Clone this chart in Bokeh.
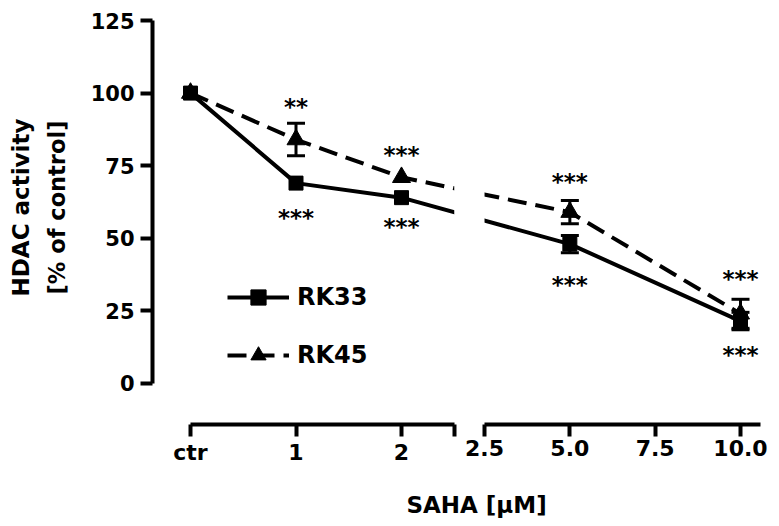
import math
from bokeh.plotting import figure
from bokeh.models import (ColumnDataSource, LinearAxis, FixedTicker, CustomJSTickFormatter,
                          Range1d, Whisker, TeeHead, BoxAnnotation, Label, Legend, LegendItem)
from bokeh.core.properties import value
from bokeh.embed import file_html
from bokeh.resources import INLINE

# ---------------- data ----------------
conc = [0, 1, 2, 5, 10]            # 0 = ctr
rk33 = [100, 69, 64, 48, 21.5]
rk33_err = [0, 1, 1.5, 3, 3]
rk45 = [100, 84, 71, 59, 24]
rk45_err = [0, 5.6, 1, 4, 5]

sig_x = [1, 2, 1, 2, 5, 5, 10, 10]
sig_y = [95.7, 79.2, 57.5, 54.4, 69.9, 34.4, 36.5, 10.3]
sig_txt = ["**", "***", "***", "***", "***", "***", "***", "***"]

y_ticks = [0, 25, 50, 75, 100, 125]
left_ticks = [0, 1, 2]
right_ticks = [2.5, 5.0, 7.5, 10.0]

# ---------------- broken x axis geometry ----------------
BREAK = 2.5      # left segment ends here
GAP = 0.287      # display gap between segments
RS = 0.3235      # display units per data unit on right segment
RIGHT_END = 10.6

def disp_left(x):
    return x

def disp_right(x):
    return BREAK + GAP + (x - BREAK) * RS

def to_disp(x):
    return disp_left(x) if x <= BREAK else disp_right(x)

# whole canvas is the frame; axes sit at fixed positions inside it
X0, X1 = -1.801, 5.545
Y0, Y1 = -47.87, 131.89
Y_AXIS_AT = -0.360
X_AXIS_AT = -14.12
FONT = "DejaVu Sans"
INK = "black"

p = figure(width=775, height=522, x_range=Range1d(X0, X1), y_range=Range1d(Y0, Y1),
           output_backend="svg", toolbar_location=None, x_axis_location=None,
           min_border_left=0, min_border_right=0, min_border_top=0, min_border_bottom=0)
p.outline_line_color = None
p.grid.visible = False
p.background_fill_color = "white"

# y axis
ya = p.yaxis[0]
ya.fixed_location = Y_AXIS_AT
ya.bounds = (0, 125)
ya.ticker = FixedTicker(ticks=y_ticks)
ya.axis_line_width = 4
ya.axis_line_color = INK
ya.major_tick_line_width = 4
ya.major_tick_line_color = INK
ya.major_tick_out = 12
ya.major_tick_in = 0
ya.minor_tick_line_color = None
ya.major_label_text_font = FONT
ya.major_label_text_font_style = "bold"
ya.major_label_text_font_size = "21px"
ya.major_label_text_color = INK
ya.major_label_standoff = 6

def style_x(ax):
    ax.axis_line_width = 4
    ax.axis_line_color = INK
    ax.major_tick_line_width = 4
    ax.major_tick_line_color = INK
    ax.major_tick_out = 12
    ax.major_tick_in = 0
    ax.minor_tick_line_color = None
    ax.major_label_text_font = FONT
    ax.major_label_text_font_style = "bold"
    ax.major_label_text_font_size = "22px"
    ax.major_label_text_color = INK
    ax.major_label_standoff = 4

ax_left = LinearAxis(
    ticker=FixedTicker(ticks=[disp_left(t) for t in left_ticks] + [BREAK]),
    formatter=CustomJSTickFormatter(args=dict(b=BREAK),
        code="if (tick == 0) { return 'ctr'; } if (tick >= b - 1e-6) { return ''; } return tick.toFixed(0);"),
    bounds=(disp_left(0), BREAK), fixed_location=X_AXIS_AT)
style_x(ax_left)
ax_right = LinearAxis(
    ticker=FixedTicker(ticks=[disp_right(t) for t in right_ticks]),
    formatter=CustomJSTickFormatter(args=dict(b=BREAK, g=GAP, rs=RS),
        code="return ((tick - b - g) / rs + b).toFixed(1);"),
    bounds=(disp_right(BREAK), disp_right(RIGHT_END)), fixed_location=X_AXIS_AT)
style_x(ax_right)
p.add_layout(ax_left, "below")
p.add_layout(ax_right, "below")

# ---------------- series ----------------
xd = [to_disp(c) for c in conc]
src33 = ColumnDataSource(dict(x=xd, y=rk33))
src45 = ColumnDataSource(dict(x=xd, y=rk45))

l45 = p.line("x", "y", source=src45, line_width=4, color=INK, line_dash="19 9")
s45 = p.scatter("x", "y", source=src45, marker="triangle", size=18, color=INK)
l33 = p.line("x", "y", source=src33, line_width=4, color=INK)
s33 = p.scatter("x", "y", source=src33, marker="square", size=14, color=INK)

def err_source(ys, errs):
    xs, up, lo = [], [], []
    for c, yv, e in zip(conc, ys, errs):
        if e >= 2:
            xs.append(to_disp(c)); up.append(yv + e); lo.append(yv - e)
    return ColumnDataSource(dict(x=xs, upper=up, lower=lo))

for ys, errs in ((rk33, rk33_err), (rk45, rk45_err)):
    w = Whisker(base="x", upper="upper", lower="lower", source=err_source(ys, errs),
                line_width=3, line_color=INK,
                upper_head=TeeHead(size=18, line_width=3, line_color=INK),
                lower_head=TeeHead(size=18, line_width=3, line_color=INK))
    p.add_layout(w)

# gap of the broken axis through the data area
p.add_layout(BoxAnnotation(left=BREAK, right=BREAK + GAP, bottom=0, top=125,
                           fill_color="white", fill_alpha=1, line_alpha=0))

# significance stars
sig_src = ColumnDataSource(dict(x=[to_disp(v) for v in sig_x], y=sig_y, t=sig_txt))
p.text("x", "y", text="t", source=sig_src, text_font=value(FONT), text_font_size="23px",
       text_font_style="bold", text_align="center", text_baseline="middle", y_offset=1,
       text_color=INK)

# legend
leg = Legend(items=[LegendItem(label="RK33", renderers=[l33, s33]),
                    LegendItem(label="RK45", renderers=[l45, s45])],
             location=(227, 148), glyph_width=62, glyph_height=38, spacing=20,
             label_text_font=FONT, label_text_font_style="bold", label_text_font_size="24px",
             label_text_color=INK, label_standoff=8, padding=0, margin=0,
             border_line_alpha=0, background_fill_alpha=0)
p.add_layout(leg, "center")

# axis titles
p.add_layout(Label(x=-1.611, y=60.6, text="HDAC activity", angle=math.pi / 2,
                   text_font=FONT, text_font_style="bold", text_font_size="23px",
                   text_color=INK, text_align="center", text_baseline="middle"))
p.add_layout(Label(x=-1.261, y=60.6, text="[% of control]", angle=math.pi / 2,
                   text_font=FONT, text_font_style="bold", text_font_size="22.5px",
                   text_color=INK, text_align="center", text_baseline="middle"))
p.add_layout(Label(x=2.711, y=-41.7, text="SAHA [\u03bcM]",
                   text_font=FONT, text_font_style="bold", text_font_size="23px",
                   text_color=INK, text_align="center", text_baseline="middle"))

open("out.html", "w").write(file_html(p, INLINE))
